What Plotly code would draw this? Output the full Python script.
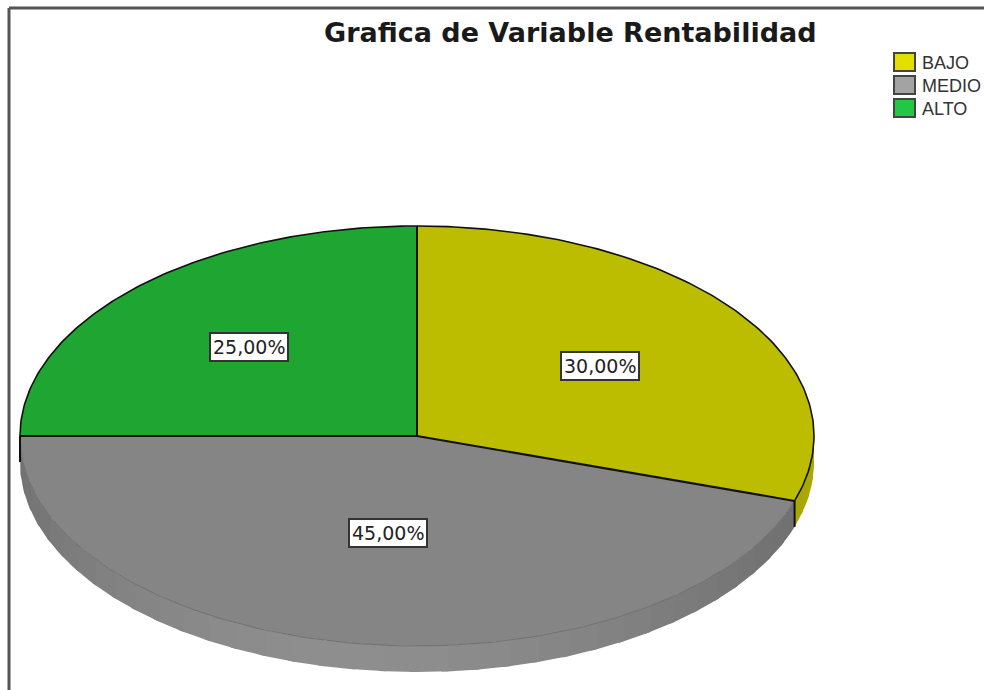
import math
import plotly.graph_objects as go

title = "Grafica de Variable Rentabilidad"
categories = ["BAJO", "MEDIO", "ALTO"]
shares = [30, 45, 25]
share_labels = ["30,00%", "45,00%", "25,00%"]
top_colors = ["#bdbd00", "#858585", "#1fa532"]
wall_colors = [(205, 205, 0), (137, 137, 137), (30, 150, 45)]
legend_colors = ["#e2de00", "#a3a3a3", "#22c843"]

# pixel geometry of the tilted pie, the axes below map 1:1 to the page
CX, CY, RX, RY, DEPTH = 417, 436, 397, 210, 26
label_radius = [0.57, 0.47, 0.60]


def rim(angle, drop=0):
    """Point on the ellipse, angle in degrees clockwise from the top."""
    a = math.radians(angle)
    return CX + RX * math.sin(a), CY - RY * math.cos(a) + drop


def arc(start, end, drop=0, steps=120):
    pts = [rim(start + (end - start) * i / steps, drop) for i in range(steps + 1)]
    return [p[0] for p in pts], [p[1] for p in pts]


def shade(rgb, angle):
    # walls are darkest at the sides and brightest just left of the front
    f = 0.82 + 0.22 * max(0, math.cos(math.radians(angle - 190))) ** 2
    return "rgb(%d,%d,%d)" % tuple(min(255, int(c * f)) for c in rgb)


fig = go.Figure()


def poly(xs, ys, color):
    fig.add_trace(go.Scatter(x=xs, y=ys, mode="lines", fill="toself", fillcolor=color,
                             line=dict(width=0), hoverinfo="skip"))


def line(xs, ys, color="#111111", width=1.6):
    fig.add_trace(go.Scatter(x=xs, y=ys, mode="lines", line=dict(color=color, width=width),
                             hoverinfo="skip"))


# cumulative angles for each slice
edges = [0]
for s in shares:
    edges.append(edges[-1] + s * 3.6)

# side wall, only the front half (90 to 270 degrees) shows
for i in range(len(shares)):
    start, end = max(edges[i], 90), min(edges[i + 1], 270)
    if start >= end:
        continue
    n = max(1, int((end - start) / 4.5))
    for k in range(n):
        a0 = start + (end - start) * k / n
        a1 = start + (end - start) * (k + 1) / n
        # a little overlap so no seams show between the strips
        over = min(a1 + 1, end)
        x0, y0 = arc(a0, over, 0, 6)
        x1, y1 = arc(over, a0, DEPTH, 6)
        poly(x0 + x1, y0 + y1, shade(wall_colors[i], (a0 + a1) / 2))

# top faces
for i in range(len(shares)):
    xs, ys = arc(edges[i], edges[i + 1])
    poly([CX] + xs + [CX], [CY] + ys + [CY], top_colors[i])

# outlines
for i in range(len(shares)):
    xs, ys = arc(edges[i], edges[i + 1])
    if categories[i] == "MEDIO":
        line(xs, ys, "#6f6f6f", 1)
    else:
        line(xs, ys)
for e in edges[:-1]:
    x, y = rim(e)
    line([CX, x], [CY, y], width=2)
x, y = rim(edges[1])
line([x, x], [y, y + DEPTH], width=2)
x, y = rim(edges[2])
line([x, x], [y, y + DEPTH], width=2)

# percentage boxes
for i, lab in enumerate(share_labels):
    mid = math.radians((edges[i] + edges[i + 1]) / 2)
    fig.add_annotation(x=CX + RX * label_radius[i] * math.sin(mid),
                       y=CY - RY * label_radius[i] * math.cos(mid),
                       text=lab, showarrow=False,
                       font=dict(family="DejaVu Sans", size=19, color="#222222"),
                       bgcolor="white", bordercolor="#333333", borderwidth=2, borderpad=2)

# legend
for i, cat in enumerate(categories):
    top = 53 + i * 23
    fig.add_shape(type="rect", x0=894, x1=915, y0=top, y1=top + 18,
                  fillcolor=legend_colors[i], line=dict(color="#444444", width=2))
    fig.add_annotation(x=920, y=top + 10, text=cat, showarrow=False, xanchor="left",
                       font=dict(family="Liberation Sans", size=18, color="#333333"))

fig.add_annotation(x=570, y=32, text="<b>%s</b>" % title, showarrow=False,
                   font=dict(family="DejaVu Sans", size=27, color="#1a1a1a"))

# picture frame, open on the right and at the bottom
fig.add_shape(type="line", x0=9, x1=984, y0=8, y1=8, line=dict(color="#555555", width=3))
fig.add_shape(type="line", x0=9, x1=9, y0=8, y1=690, line=dict(color="#555555", width=3))

fig.update_layout(
    width=984, height=690, autosize=False, showlegend=False,
    margin=dict(l=0, r=0, t=0, b=0),
    paper_bgcolor="white", plot_bgcolor="white",
    xaxis=dict(range=[0, 984], visible=False, fixedrange=True),
    yaxis=dict(range=[690, 0], visible=False, fixedrange=True),
)

# the page's default body margin would shift everything by 8px
fig.write_html("out.html", config=dict(displayModeBar=False),
               post_script="document.body.style.margin='0';")
